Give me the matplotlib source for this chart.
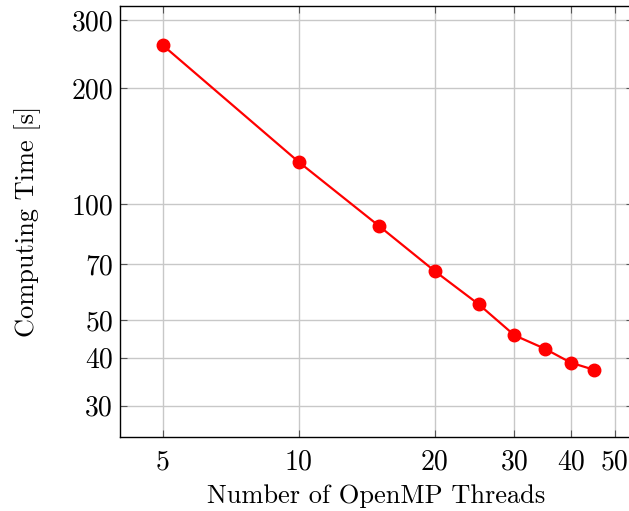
import matplotlib.pyplot as plt
from matplotlib.ticker import FixedLocator, FixedFormatter, NullLocator

plt.rcParams['font.family'] = 'serif'
plt.rcParams['font.serif'] = ['cmr10']
plt.rcParams['axes.formatter.use_mathtext'] = True

# Data
threads = [5, 10, 15, 20, 25, 30, 35, 40, 45]
times = [258, 128.5, 88, 67, 55, 45.7, 42.2, 38.8, 37.2]

xticks = [5, 10, 20, 30, 40, 50]
yticks = [30, 40, 50, 70, 100, 200, 300]

fig = plt.figure(figsize=(6.29, 5.11), dpi=100)
ax = fig.add_axes([0.1908, 0.1448, 0.815, 0.843])

ax.plot(threads, times, color='red', linewidth=1.6, marker='o', markersize=9, zorder=3)

ax.set_xscale('log')
ax.set_yscale('log')
ax.set_xlim(4.016, 54.8)
ax.set_ylim(24.9, 326)

ax.xaxis.set_major_locator(FixedLocator(xticks))
ax.xaxis.set_major_formatter(FixedFormatter([str(t) for t in xticks]))
ax.xaxis.set_minor_locator(NullLocator())
ax.yaxis.set_major_locator(FixedLocator(yticks))
ax.yaxis.set_major_formatter(FixedFormatter([str(t) for t in yticks]))
ax.yaxis.set_minor_locator(NullLocator())

ax.grid(True, color='#c8c8c8', linewidth=1.0, zorder=0)
ax.set_axisbelow(True)
ax.tick_params(direction='in', length=5, width=0.8, color='#555555',
               top=True, right=True, labelsize=20, pad=9)
ax.tick_params(axis='y', pad=5)
for s in ax.spines.values():
    s.set_linewidth(1.0)

ax.set_xlabel('Number of OpenMP Threads', fontsize=19, labelpad=6)
ax.set_ylabel('Computing Time [s]', fontsize=19, labelpad=22)

fig.savefig('out.png', dpi=100)
